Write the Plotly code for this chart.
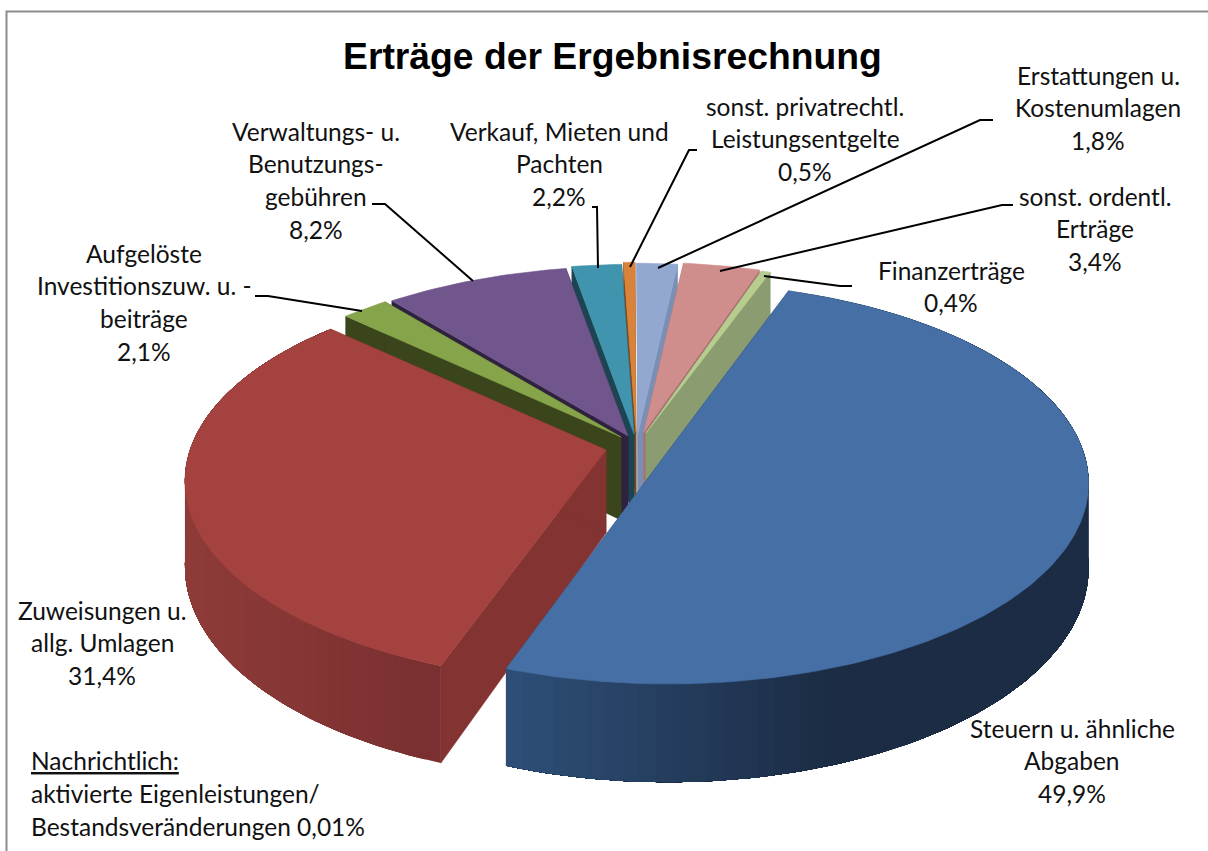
import math
import plotly.graph_objects as go

# ---------- data ----------
categories = ["Steuern u. ähnliche Abgaben", "Zuweisungen u. allg. Umlagen",
              "Aufgelöste Investitionszuw. u. -beiträge", "Verwaltungs- u. Benutzungsgebühren",
              "Verkauf, Mieten und Pachten", "sonst. privatrechtl. Leistungsentgelte",
              "Erstattungen u. Kostenumlagen", "sonst. ordentl. Erträge", "Finanzerträge"]
values = [49.9, 31.4, 2.1, 8.2, 2.2, 0.5, 1.8, 3.4, 0.4]
label_lines = [["Steuern u. ähnliche", "Abgaben"],
               ["Zuweisungen u.", "allg. Umlagen"],
               ["Aufgelöste", "Investitionszuw. u. -", "beiträge"],
               ["Verwaltungs- u.", "Benutzungs-", "gebühren"],
               ["Verkauf, Mieten und", "Pachten"],
               ["sonst. privatrechtl.", "Leistungsentgelte"],
               ["Erstattungen u.", "Kostenumlagen"],
               ["sonst. ordentl.", "Erträge"],
               ["Finanzerträge"]]
title_text = "Erträge der Ergebnisrechnung"
note_lines = ["<u>Nachrichtlich:</u>", "aktivierte Eigenleistungen/", "Bestandsveränderungen 0,01%"]

# ---------- styles ----------
top_colors = ["#4670a5", "#a44240", "#86a44a", "#70568c", "#4094ad", "#d9823a", "#93a8d0", "#cf8e8c", "#b6cd8e"]
wall_colors = ["#2a4568", "#833331", "#3a451c", "#2e2240", "#1c4452", "#7a4a1e", "#7b8fb5", "#a87070", "#8a9c70"]
# drawing order: back-centre slices first, then outwards, the two big slices last
draw_order = [5, 4, 3, 2, 6, 7, 8, 1, 0]
explode = [(37.5, 17), (-24, 15), (-9, 2), (-2, 1), (4, -1), (6, -3), (8, -2), (14, -3), (16, -2)]
rotate = [-0.5, 0, 0, 0, 0, 0, 0, 0, 0]
label_cx = [1072, 102, 144, 316, 559, 805, 1098, 1095, 951]
label_y0 = [728, 610, 253, 131, 131, 106, 75, 196, 270]
LINE_STEP = 32.7
FONT = "Lato"
FS = 24.5

# pie geometry (pixel-like axis)
CX, CY, RX, RY, P, DEPTH = 630, 435, 416, 196, 0.155, 83.0
THETA0 = 20.0


def project(theta, cx, cy, drop=False):
    s, c = math.sin(math.radians(theta)), math.cos(math.radians(theta))
    k = 1 / (1 + P * c)
    x = cx + RX * s * k
    y = cy - RY * c * k
    if drop:
        y += DEPTH * k
    return x, y


def arc(a, b, cx, cy, drop=False, step=1.0):
    n = max(2, int(abs(b - a) / step) + 1)
    return [project(a + (b - a) * i / (n - 1), cx, cy, drop) for i in range(n)]


def mix(c1, c2, t):
    t = max(0, min(1, t))
    a = [int(c1[i:i + 2], 16) for i in (1, 3, 5)]
    b = [int(c2[i:i + 2], 16) for i in (1, 3, 5)]
    return "rgb(%d,%d,%d)" % tuple(round(a[i] + (b[i] - a[i]) * t) for i in range(3))


def poly(pts, color, lw=0.6):
    xs = [p[0] for p in pts] + [pts[0][0]]
    ys = [p[1] for p in pts] + [pts[0][1]]
    return go.Scatter(x=xs, y=ys, mode="lines", fill="toself", fillcolor=color,
                      line=dict(color=color, width=lw), hoverinfo="skip", showlegend=False)


total = sum(values)
spans = []
a = THETA0
for v, r in zip(values, rotate):
    b = a + 360 * v / total
    spans.append((a + r, b + r))
    a = b

fig = go.Figure()
for i in draw_order:
    a, b = spans[i]
    cx, cy = CX + explode[i][0], CY + explode[i][1]
    apex_top, apex_bot = (cx, cy), (cx, cy + DEPTH)
    for th in (a, b):
        fig.add_trace(poly([apex_top, project(th, cx, cy), project(th, cx, cy, True), apex_bot], wall_colors[i]))
    if i in (0, 1):
        grad = {0: ("#2f4f78", "#1b2c44", 505, 830), 1: ("#8e3b39", "#7a3030", 190, 420)}[i]
        # strips are painted so that each one overlaps the next and no seams show
        step = 2.0
        n = int((b - a) / step) + 1
        for j in range(n):
            th = a + (b - a) * j / n
            pts_top = arc(th, b, cx, cy, False, 1.0)
            pts_bot = arc(th, b, cx, cy, True, 1.0)
            nx = a + (b - a) * (j + 1) / n
            mx = (project(th, cx, cy)[0] + project(nx, cx, cy)[0]) / 2
            col = mix(grad[0], grad[1], (mx - grad[2]) / (grad[3] - grad[2]))
            fig.add_trace(poly(pts_top + pts_bot[::-1], col, 0))
    fig.add_trace(poly([apex_top] + arc(a, b, cx, cy), top_colors[i]))

annos = [dict(x=612.5, y=56, text="<b>%s</b>" % title_text, showarrow=False, xanchor="center", yanchor="middle",
              font=dict(family="Liberation Sans", size=37.3, color="#000000"))]
for i, lines in enumerate(label_lines):
    pct = ("%.1f%%" % values[i]).replace(".", ",")
    for j, t in enumerate(lines + [pct]):
        annos.append(dict(x=label_cx[i], y=label_y0[i] + j * LINE_STEP, text=t, showarrow=False,
                          xanchor="center", yanchor="middle", font=dict(family=FONT, size=FS, color="#111111")))
for j, t in enumerate(note_lines):
    annos.append(dict(x=29, y=760 + j * 33, text=t, showarrow=False, xanchor="left", yanchor="middle",
                      font=dict(family=FONT, size=FS, color="#111111")))

leaders = ["M372,204 L385,204 L473,281", "M592,207 L597,207 L598,268", "M697,150 L689,150 L630,267",
           "M993,120 L980,120 L658,268", "M1013,205 L1002,205 L720,271", "M852,286 L840,286 L764,276",
           "M255,296 L268,296 L362,311"]
shapes = [dict(type="path", path=p, xref="x", yref="y", line=dict(color="#000000", width=2)) for p in leaders]
shapes.append(dict(type="path", path="M6.5,851 L6.5,11.5 L1208,11.5", xref="x", yref="y",
                   line=dict(color="#8c8c8c", width=2)))

fig.update_layout(width=1208, height=851, margin=dict(l=0, r=0, t=0, b=0),
                  paper_bgcolor="white", plot_bgcolor="white", showlegend=False,
                  xaxis=dict(range=[0, 1208], visible=False, fixedrange=True),
                  yaxis=dict(range=[851, 0], visible=False, fixedrange=True),
                  annotations=annos, shapes=shapes)
fig.write_html("out.html", config=dict(displayModeBar=False),
               post_script="document.body.style.margin='0';document.body.style.overflow='hidden';")
